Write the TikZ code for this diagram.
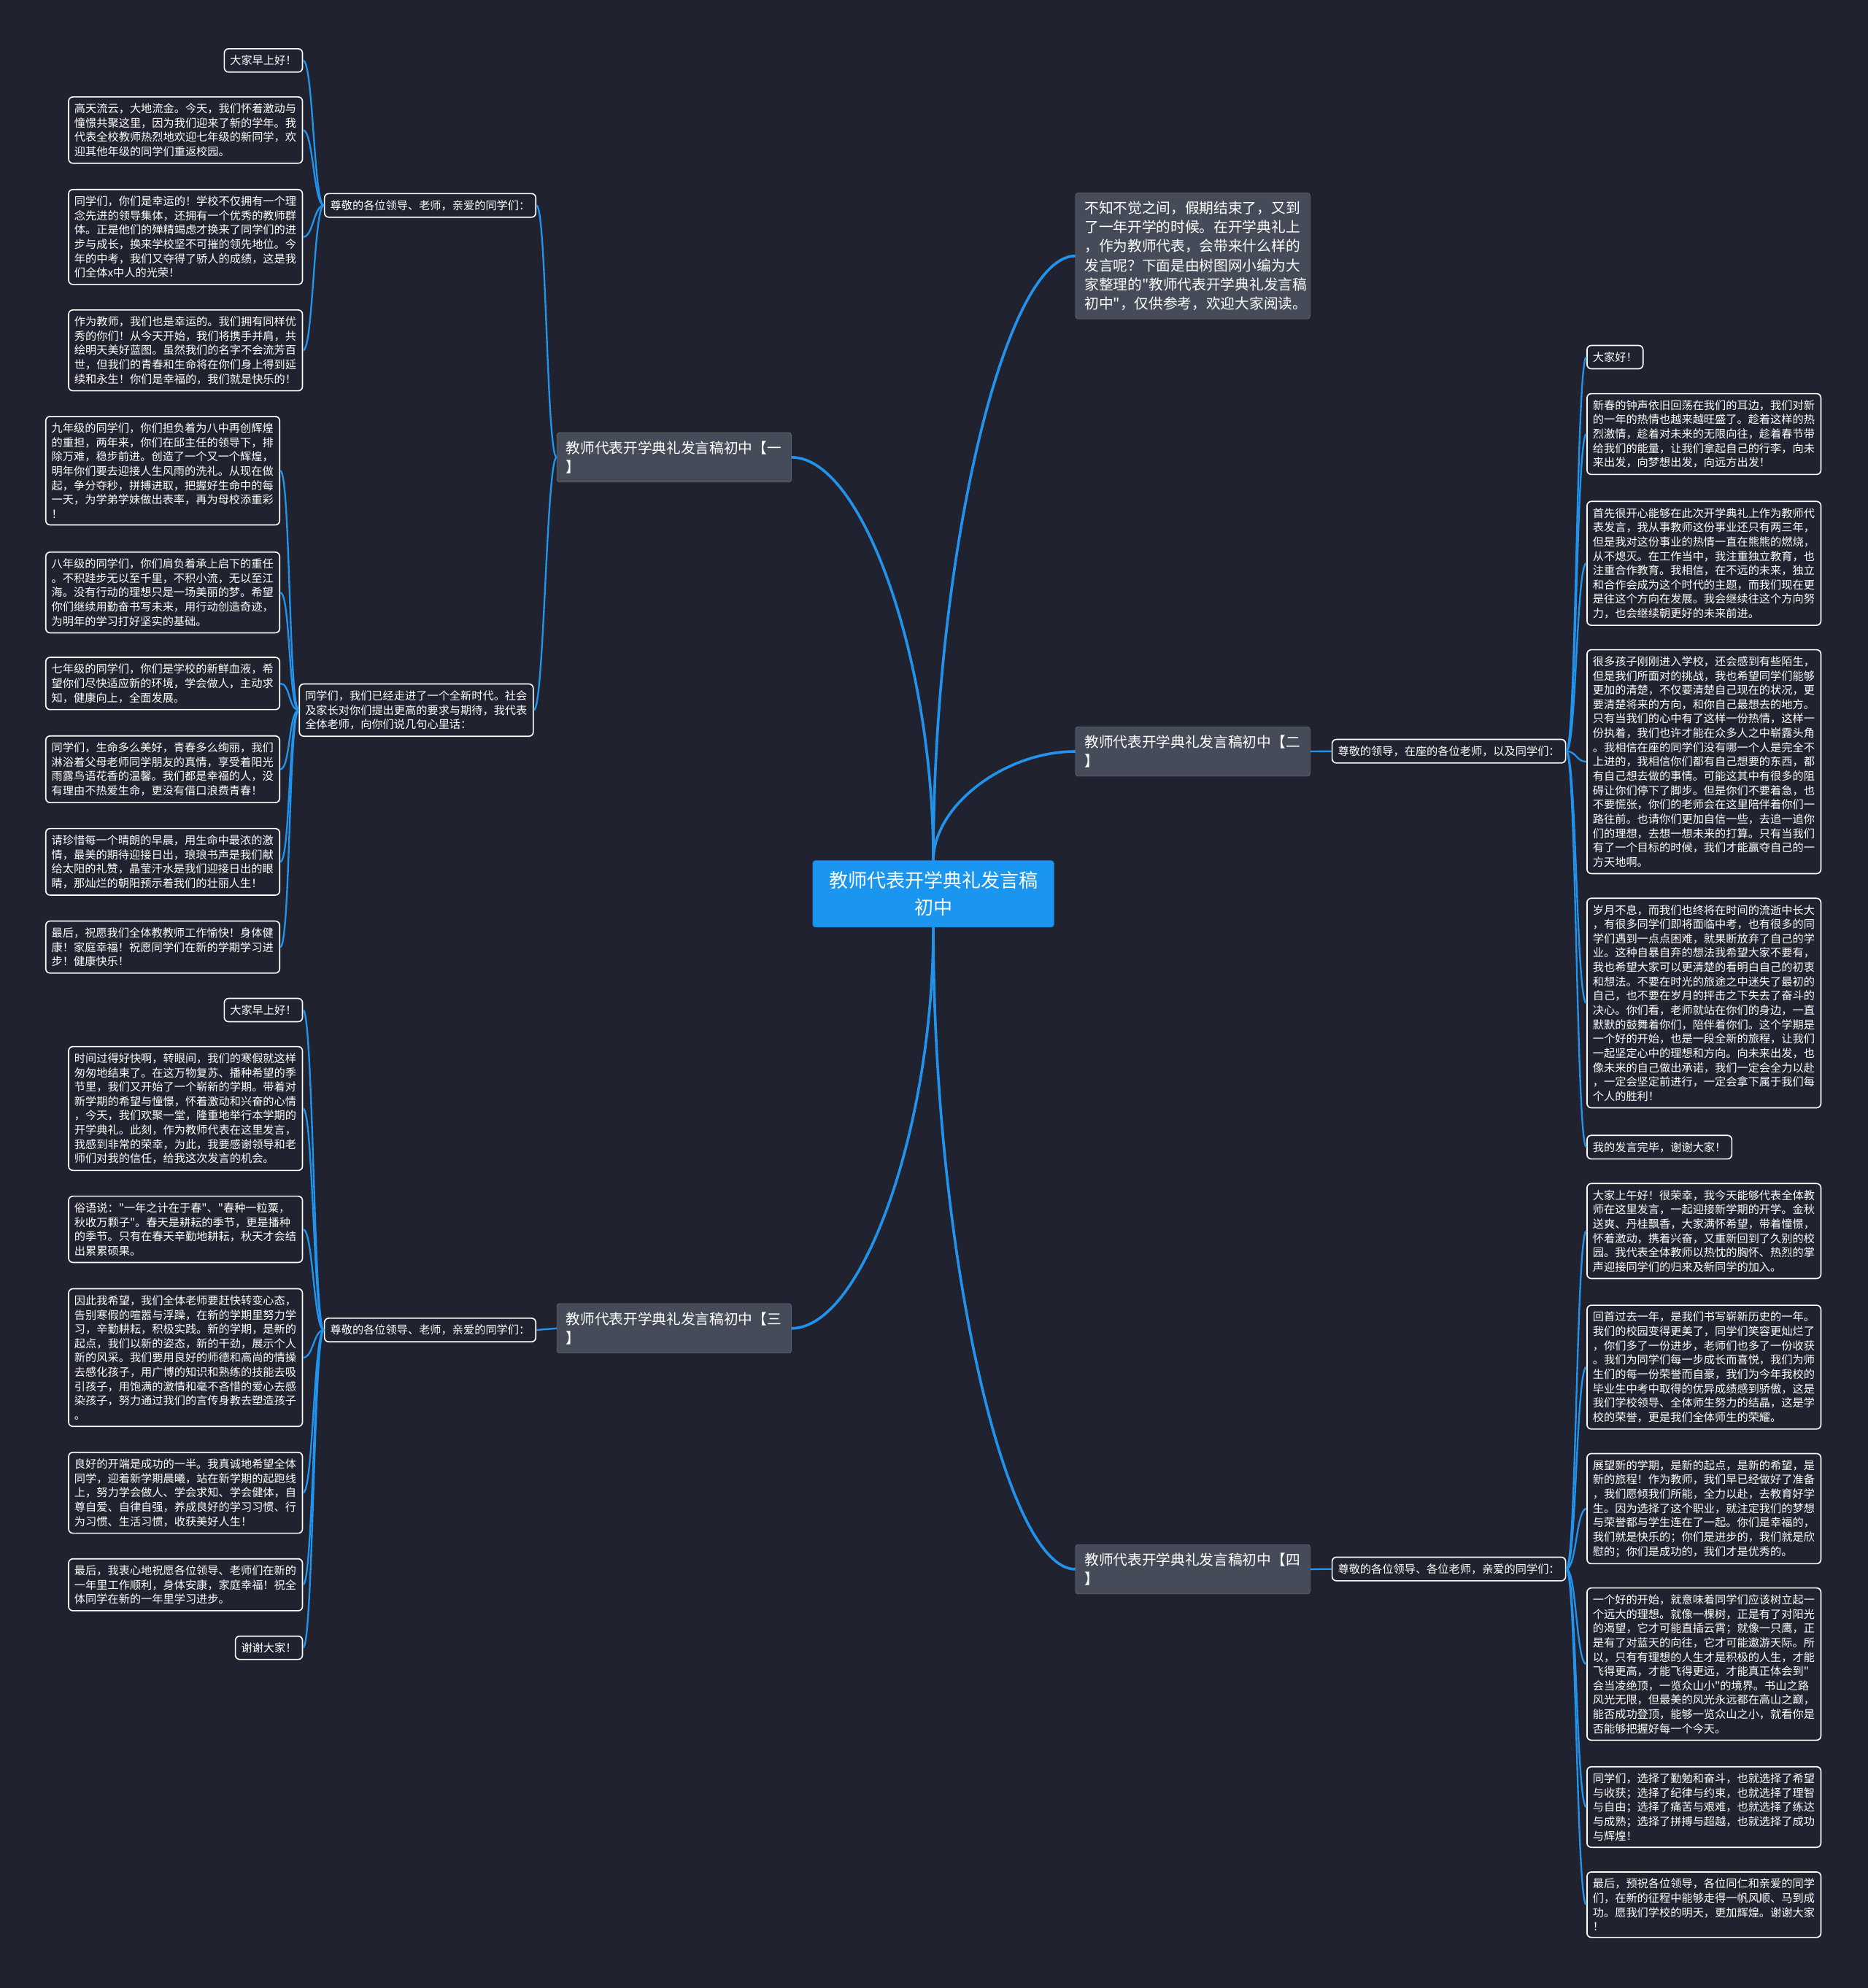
\documentclass[tikz,border=0pt]{standalone}
\usepackage{fontspec}
\usepackage{xcolor}
\usepackage{tikz}
\usetikzlibrary{
  positioning,
  calc
}
\newfontfamily\cjk{Noto Sans CJK SC}[Ligatures=TeXOff]
\definecolor{bgnavy}{HTML}{20232F}
\definecolor{linkblue}{HTML}{2193EC}
\definecolor{rootblue}{HTML}{1A96F0}
\definecolor{topicgray}{HTML}{454B59}

\begin{document}
\begin{tikzpicture}[
  x=0.05214cm, y=-0.05214cm,
  root/.style={fill=rootblue, draw=rootblue!85!black, rounded corners=3pt, text=white, font=\cjk\fontsize{22.2}{31.2}\selectfont, align=center, text width=245pt, inner xsep=18.5pt, inner ysep=13pt},
  topic/.style={fill=topicgray, draw=black!55, thin, rounded corners=3pt, text=white, font=\cjk\fontsize{16.8}{22.3}\selectfont, align=left, text width=253pt, inner xsep=10.7pt, inner ysep=10pt},
  note/.style={draw=white, line width=1.4pt, fill=bgnavy, rounded corners=5pt, text=white, font=\cjk\fontsize{12.98}{16.76}\selectfont, inner xsep=6.8pt, inner ysep=7.6pt},
  leaf/.style={note, align=left, text width=260pt},
  trunk/.style={draw=linkblue, line width=3.1pt},
  link/.style={draw=linkblue, line width=2pt},
]
\useasboundingbox (0,0) rectangle (1473,1568);
\fill[bgnavy] (0,0) rectangle (1473,1568);

% Nodo central
\node[root] (ctr) at (736,705) {教师代表开学典礼发言稿\\初中};

% Ramas
\node[topic, anchor=north west] (intro) at (848,152) {不知不觉之间，假期结束了，又到\\了一年开学的时候。在开学典礼上\\，作为教师代表，会带来什么样的\\发言呢？下面是由树图网小编为大\\家整理的"教师代表开学典礼发言稿\\初中"，仅供参考，欢迎大家阅读。};
\node[topic, anchor=north west] (b1) at (439,341) {教师代表开学典礼发言稿初中【一\\】};
\node[topic, anchor=north west] (b2) at (848,573) {教师代表开学典礼发言稿初中【二\\】};
\node[topic, anchor=north west] (b3) at (439,1028) {教师代表开学典礼发言稿初中【三\\】};
\node[topic, anchor=north west] (b4) at (848,1218) {教师代表开学典礼发言稿初中【四\\】};

% Rama 1, primera parte
\node[note, anchor=east] (subA) at (423,162) {尊敬的各位领导、老师，亲爱的同学们：};
\node[note, anchor=north east] (a1) at (239,38) {大家早上好！};
\node[leaf, anchor=north east] (a2) at (239,76) {高天流云，大地流金。今天，我们怀着激动与\\憧憬共聚这里，因为我们迎来了新的学年。我\\代表全校教师热烈地欢迎七年级的新同学，欢\\迎其他年级的同学们重返校园。};
\node[leaf, anchor=north east] (a3) at (239,149) {同学们，你们是幸运的！学校不仅拥有一个理\\念先进的领导集体，还拥有一个优秀的教师群\\体。正是他们的殚精竭虑才换来了同学们的进\\步与成长，换来学校坚不可摧的领先地位。今\\年的中考，我们又夺得了骄人的成绩，这是我\\们全体x中人的光荣！};
\node[leaf, anchor=north east] (a4) at (239,244) {作为教师，我们也是幸运的。我们拥有同样优\\秀的你们！从今天开始，我们将携手并肩，共\\绘明天美好蓝图。虽然我们的名字不会流芳百\\世，但我们的青春和生命将在你们身上得到延\\续和永生！你们是幸福的，我们就是快乐的！};

% Rama 1, segunda parte
\node[leaf, anchor=north east] (subB) at (421,539) {同学们，我们已经走进了一个全新时代。社会\\及家长对你们提出更高的要求与期待，我代表\\全体老师，向你们说几句心里话：};
\node[leaf, anchor=north east] (bb1) at (221,328) {九年级的同学们，你们担负着为八中再创辉煌\\的重担，两年来，你们在邱主任的领导下，排\\除万难，稳步前进。创造了一个又一个辉煌，\\明年你们要去迎接人生风雨的洗礼。从现在做\\起，争分夺秒，拼搏进取，把握好生命中的每\\一天，为学弟学妹做出表率，再为母校添重彩\\！};
\node[leaf, anchor=north east] (bb2) at (221,435) {八年级的同学们，你们肩负着承上启下的重任\\。不积跬步无以至千里，不积小流，无以至江\\海。没有行动的理想只是一场美丽的梦。希望\\你们继续用勤奋书写未来，用行动创造奇迹，\\为明年的学习打好坚实的基础。};
\node[leaf, anchor=north east] (bb3) at (221,518) {七年级的同学们，你们是学校的新鲜血液，希\\望你们尽快适应新的环境，学会做人，主动求\\知，健康向上，全面发展。};
\node[leaf, anchor=north east] (bb4) at (221,580) {同学们，生命多么美好，青春多么绚丽，我们\\淋浴着父母老师同学朋友的真情，享受着阳光\\雨露鸟语花香的温馨。我们都是幸福的人，没\\有理由不热爱生命，更没有借口浪费青春！};
\node[leaf, anchor=north east] (bb5) at (221,653) {请珍惜每一个晴朗的早晨，用生命中最浓的激\\情，最美的期待迎接日出，琅琅书声是我们献\\给太阳的礼赞，晶莹汗水是我们迎接日出的眼\\睛，那灿烂的朝阳预示着我们的壮丽人生！};
\node[leaf, anchor=north east] (bb6) at (221,726) {最后，祝愿我们全体教教师工作愉快！身体健\\康！家庭幸福！祝愿同学们在新的学期学习进\\步！健康快乐！};

% Rama 3
\node[note, anchor=east] (subC) at (423,1049) {尊敬的各位领导、老师，亲爱的同学们：};
\node[note, anchor=north east] (c1) at (239,787) {大家早上好！};
\node[leaf, anchor=north east] (c2) at (239,825) {时间过得好快啊，转眼间，我们的寒假就这样\\匆匆地结束了。在这万物复苏、播种希望的季\\节里，我们又开始了一个崭新的学期。带着对\\新学期的希望与憧憬，怀着激动和兴奋的心情\\，今天，我们欢聚一堂，隆重地举行本学期的\\开学典礼。此刻，作为教师代表在这里发言，\\我感到非常的荣幸，为此，我要感谢领导和老\\师们对我的信任，给我这次发言的机会。};
\node[leaf, anchor=north east] (c3) at (239,943) {俗语说："一年之计在于春"、"春种一粒粟，\\秋收万颗子"。春天是耕耘的季节，更是播种\\的季节。只有在春天辛勤地耕耘，秋天才会结\\出累累硕果。};
\node[leaf, anchor=north east] (c4) at (239,1016) {因此我希望，我们全体老师要赶快转变心态，\\告别寒假的喧嚣与浮躁，在新的学期里努力学\\习，辛勤耕耘，积极实践。新的学期，是新的\\起点，我们以新的姿态，新的干劲，展示个人\\新的风采。我们要用良好的师德和高尚的情操\\去感化孩子，用广博的知识和熟练的技能去吸\\引孩子，用饱满的激情和毫不吝惜的爱心去感\\染孩子，努力通过我们的言传身教去塑造孩子\\。};
\node[leaf, anchor=north east] (c5) at (239,1145) {良好的开端是成功的一半。我真诚地希望全体\\同学，迎着新学期晨曦，站在新学期的起跑线\\上，努力学会做人、学会求知、学会健体，自\\尊自爱、自律自强，养成良好的学习习惯、行\\为习惯、生活习惯，收获美好人生！};
\node[leaf, anchor=north east] (c6) at (239,1229) {最后，我衷心地祝愿各位领导、老师们在新的\\一年里工作顺利，身体安康，家庭幸福！祝全\\体同学在新的一年里学习进步。};
\node[note, anchor=north east] (c7) at (239,1290) {谢谢大家！};

% Rama 2
\node[note, anchor=west] (subD) at (1050,592.5) {尊敬的领导，在座的各位老师，以及同学们：};
\node[note, anchor=north west] (d1) at (1251,272) {大家好！};
\node[leaf, anchor=north west] (d2) at (1251,310) {新春的钟声依旧回荡在我们的耳边，我们对新\\的一年的热情也越来越旺盛了。趁着这样的热\\烈激情，趁着对未来的无限向往，趁着春节带\\给我们的能量，让我们拿起自己的行李，向未\\来出发，向梦想出发，向远方出发！};
\node[leaf, anchor=north west] (d3) at (1251,395) {首先很开心能够在此次开学典礼上作为教师代\\表发言，我从事教师这份事业还只有两三年，\\但是我对这份事业的热情一直在熊熊的燃烧，\\从不熄灭。在工作当中，我注重独立教育，也\\注重合作教育。我相信，在不远的未来，独立\\和合作会成为这个时代的主题，而我们现在更\\是往这个方向在发展。我会继续往这个方向努\\力，也会继续朝更好的未来前进。};
\node[leaf, anchor=north west] (d4) at (1251,512) {很多孩子刚刚进入学校，还会感到有些陌生，\\但是我们所面对的挑战，我也希望同学们能够\\更加的清楚，不仅要清楚自己现在的状况，更\\要清楚将来的方向，和你自己最想去的地方。\\只有当我们的心中有了这样一份热情，这样一\\份执着，我们也许才能在众多人之中崭露头角\\。我相信在座的同学们没有哪一个人是完全不\\上进的，我相信你们都有自己想要的东西，都\\有自己想去做的事情。可能这其中有很多的阻\\碍让你们停下了脚步。但是你们不要着急，也\\不要慌张，你们的老师会在这里陪伴着你们一\\路往前。也请你们更加自信一些，去追一追你\\们的理想，去想一想未来的打算。只有当我们\\有了一个目标的时候，我们才能赢夺自己的一\\方天地啊。};
\node[leaf, anchor=north west] (d5) at (1251,708) {岁月不息，而我们也终将在时间的流逝中长大\\，有很多同学们即将面临中考，也有很多的同\\学们遇到一点点困难，就果断放弃了自己的学\\业。这种自暴自弃的想法我希望大家不要有，\\我也希望大家可以更清楚的看明白自己的初衷\\和想法。不要在时光的旅途之中迷失了最初的\\自己，也不要在岁月的抨击之下失去了奋斗的\\决心。你们看，老师就站在你们的身边，一直\\默默的鼓舞着你们，陪伴着你们。这个学期是\\一个好的开始，也是一段全新的旅程，让我们\\一起坚定心中的理想和方向。向未来出发，也\\像未来的自己做出承诺，我们一定会全力以赴\\，一定会坚定前进行，一定会拿下属于我们每\\个人的胜利！};
\node[note, anchor=north west] (d6) at (1251,895) {我的发言完毕，谢谢大家！};

% Rama 4
\node[note, anchor=west] (subE) at (1050,1237.5) {尊敬的各位领导、各位老师，亲爱的同学们：};
\node[leaf, anchor=north west] (e1) at (1251,933) {大家上午好！很荣幸，我今天能够代表全体教\\师在这里发言，一起迎接新学期的开学。金秋\\送爽、丹桂飘香，大家满怀希望，带着憧憬，\\怀着激动，携着兴奋，又重新回到了久别的校\\园。我代表全体教师以热忱的胸怀、热烈的掌\\声迎接同学们的归来及新同学的加入。};
\node[leaf, anchor=north west] (e2) at (1251,1029) {回首过去一年，是我们书写崭新历史的一年。\\我们的校园变得更美了，同学们笑容更灿烂了\\，你们多了一份进步，老师们也多了一份收获\\。我们为同学们每一步成长而喜悦，我们为师\\生们的每一份荣誉而自豪，我们为今年我校的\\毕业生中考中取得的优异成绩感到骄傲，这是\\我们学校领导、全体师生努力的结晶，这是学\\校的荣誉，更是我们全体师生的荣耀。};
\node[leaf, anchor=north west] (e3) at (1251,1146) {展望新的学期，是新的起点，是新的希望，是\\新的旅程！作为教师，我们早已经做好了准备\\，我们愿倾我们所能，全力以赴，去教育好学\\生。因为选择了这个职业，就注定我们的梦想\\与荣誉都与学生连在了一起。你们是幸福的，\\我们就是快乐的；你们是进步的，我们就是欣\\慰的；你们是成功的，我们才是优秀的。};
\node[leaf, anchor=north west] (e4) at (1251,1252) {一个好的开始，就意味着同学们应该树立起一\\个远大的理想。就像一棵树，正是有了对阳光\\的渴望，它才可能直插云霄；就像一只鹰，正\\是有了对蓝天的向往，它才可能遨游天际。所\\以，只有有理想的人生才是积极的人生，才能\\飞得更高，才能飞得更远，才能真正体会到"\\会当凌绝顶，一览众山小"的境界。书山之路\\风光无限，但最美的风光永远都在高山之巅，\\能否成功登顶，能够一览众山之小，就看你是\\否能够把握好每一个今天。};
\node[leaf, anchor=north west] (e5) at (1251,1393) {同学们，选择了勤勉和奋斗，也就选择了希望\\与收获；选择了纪律与约束，也就选择了理智\\与自由；选择了痛苦与艰难，也就选择了练达\\与成熟；选择了拼搏与超越，也就选择了成功\\与辉煌！};
\node[leaf, anchor=north west] (e6) at (1251,1476) {最后，预祝各位领导，各位同仁和亲爱的同学\\们，在新的征程中能够走得一帆风顺、马到成\\功。愿我们学校的明天，更加辉煌。谢谢大家\\！};

% Conexiones del centro
\foreach \t in {intro,b2} {
  \draw[trunk] (ctr.north) .. controls ($(ctr.north)!0.5!(ctr.north |- \t.west)$) and ($(\t.west)!0.5!(ctr.north |- \t.west)$) .. (\t.west);
}
\draw[trunk] (ctr.north) .. controls ($(ctr.north)!0.5!(ctr.north |- b1.east)$) and ($(b1.east)!0.5!(ctr.north |- b1.east)$) .. (b1.east);
\draw[trunk] (ctr.south) .. controls ($(ctr.south)!0.5!(ctr.south |- b3.east)$) and ($(b3.east)!0.5!(ctr.south |- b3.east)$) .. (b3.east);
\draw[trunk] (ctr.south) .. controls ($(ctr.south)!0.5!(ctr.south |- b4.west)$) and ($(b4.west)!0.5!(ctr.south |- b4.west)$) .. (b4.west);

% Conexiones de las ramas
\draw[link] (b1.west) .. controls +(-8,0) and +(8,0) .. (subA.east);
\draw[link] (b1.west) .. controls +(-8,0) and +(8,0) .. (subB.east);
\draw[link] (b3.west) -- (subC.east);
\draw[link] (b2.east) -- (subD.west);
\draw[link] (b4.east) -- (subE.west);

% Hojas
\foreach \n in {a1,a2,a3,a4} {
  \draw[link] (subA.west) .. controls +(-8,0) and +(8,0) .. (\n.east);
}
\foreach \n in {bb1,bb2,bb3,bb4,bb5,bb6} {
  \draw[link] (subB.west) .. controls +(-8,0) and +(8,0) .. (\n.east);
}
\foreach \n in {c1,c2,c3,c4,c5,c6,c7} {
  \draw[link] (subC.west) .. controls +(-8,0) and +(8,0) .. (\n.east);
}
\foreach \n in {d1,d2,d3,d4,d5,d6} {
  \draw[link] (subD.east) .. controls +(8,0) and +(-8,0) .. (\n.west);
}
\foreach \n in {e1,e2,e3,e4,e5,e6} {
  \draw[link] (subE.east) .. controls +(8,0) and +(-8,0) .. (\n.west);
}

\end{tikzpicture}
\end{document}
